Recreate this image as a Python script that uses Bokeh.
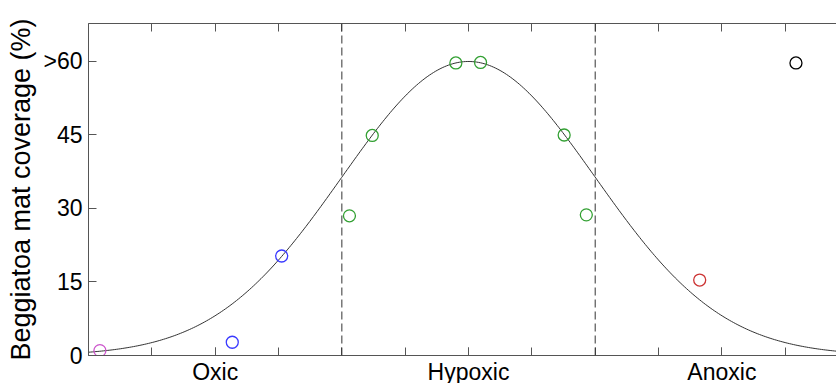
import numpy as np
from bokeh.plotting import figure
from bokeh.models import Range1d, LinearAxis, FixedTicker, Span
from bokeh.embed import file_html
from bokeh.resources import INLINE

# ---- data ----
zone_labels = ["Oxic", "Hypoxic", "Anoxic"]
zone_centers = [2, 6, 10]
zone_bounds = [4, 8]
x_ticks = list(range(12))
y_ticks = [0, 15, 30, 45, 60]
y_tick_labels = ["0", "15", "30", "45", ">60"]

magenta_x = [0.18]
magenta_y = [1.0]
blue_x = [2.27, 3.05]
blue_y = [2.7, 20.3]
green_x = [4.12, 4.48, 5.80, 6.19, 7.51, 7.86]
green_y = [28.5, 44.9, 59.7, 59.8, 45.0, 28.7]
red_x = [9.65]
red_y = [15.4]
black_x = [11.17]
black_y = [59.7]

# Gaussian fit parameters
fit_amplitude = 60.0
fit_center = 6.0
fit_sigma = 2.0

X_MAX = 11.81
Y_MAX = 67.75

FONT = "Liberation Sans"
AXIS_COLOR = "#555555"

p = figure(frame_width=748, frame_height=332,
           x_range=Range1d(0, X_MAX), y_range=Range1d(0, Y_MAX),
           output_backend="svg", toolbar_location=None,
           min_border_left=88, min_border_right=0,
           min_border_top=23, min_border_bottom=28)
p.grid.visible = False
p.outline_line_color = None
p.background_fill_color = "white"
p.border_fill_color = "white"

# bottom axis: labelled zones as major ticks, every integer as (inward) minor tick
xa = p.xaxis[0]
xa.ticker = FixedTicker(ticks=zone_centers, minor_ticks=x_ticks)
xa.major_label_overrides = {c: lab for c, lab in zip(zone_centers, zone_labels)}
xa.major_tick_in = 8
xa.major_tick_out = 0
xa.minor_tick_in = 8
xa.minor_tick_out = 0
xa.axis_line_color = AXIS_COLOR
xa.major_tick_line_color = AXIS_COLOR
xa.minor_tick_line_color = AXIS_COLOR
xa.major_label_text_font = FONT
xa.major_label_text_font_size = "23px"
xa.major_label_text_color = "black"
xa.major_label_standoff = 3

# left axis
ya = p.yaxis[0]
ya.ticker = FixedTicker(ticks=y_ticks)
ya.major_label_overrides = {t: l for t, l in zip(y_ticks, y_tick_labels)}
ya.major_tick_in = 8
ya.major_tick_out = 0
ya.minor_tick_line_color = None
ya.axis_line_color = AXIS_COLOR
ya.major_tick_line_color = AXIS_COLOR
ya.major_label_text_font = FONT
ya.major_label_text_font_size = "23px"
ya.major_label_text_color = "black"
ya.major_label_standoff = 6
ya.axis_label = "Beggiatoa mat coverage (%)"
ya.axis_label_text_font = FONT
ya.axis_label_text_font_size = "27px"
ya.axis_label_text_font_style = "normal"
ya.axis_label_text_color = "black"
ya.axis_label_standoff = 4

# top axis (box): only minor ticks, no labels
top = LinearAxis(ticker=FixedTicker(ticks=[], minor_ticks=x_ticks),
                 minor_tick_in=8, minor_tick_out=0,
                 major_tick_line_color=None,
                 axis_line_color=AXIS_COLOR,
                 minor_tick_line_color=AXIS_COLOR)
p.add_layout(top, "above")

# zone boundaries
for b in zone_bounds:
    p.add_layout(Span(location=b, dimension="height", line_color="#333333",
                      line_width=1, line_dash="8 4"))

# fitted curve
xs = np.linspace(0, X_MAX, 400)
ys = fit_amplitude * np.exp(-((xs - fit_center) ** 2) / (2 * fit_sigma ** 2))
p.line(xs, ys, line_color="#333333", line_width=1)

# data points
for xv, yv, col in [(magenta_x, magenta_y, "#cc55cc"),
                    (blue_x, blue_y, "#3a3aff"),
                    (green_x, green_y, "#33a033"),
                    (red_x, red_y, "#cc3333"),
                    (black_x, black_y, "#000000")]:
    p.scatter(xv, yv, marker="circle", size=12, fill_color=None,
              line_color=col, line_width=1.3)

open("out.html", "w").write(file_html(p, INLINE))
